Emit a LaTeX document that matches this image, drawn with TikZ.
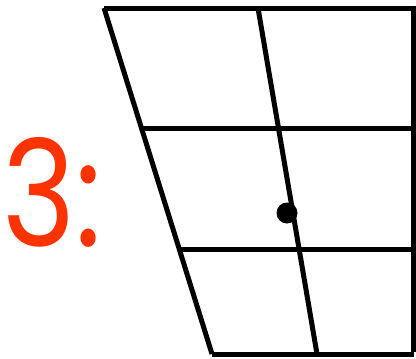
\documentclass[tikz,border=0pt]{standalone}
\usepackage{fontspec}
\setmainfont{Poppins}
\definecolor{lbl}{HTML}{FF3300}
\begin{document}
\begin{tikzpicture}[x=1pt,y=-1pt,
  gridline/.style={line width=5pt},
  labeltext/.style={text=lbl,font=\fontsize{148}{148}\selectfont,inner sep=0pt,anchor=base west,xscale=0.84,transform shape}]
\useasboundingbox (0,0) rectangle (416,359);
\coordinate (TL) at (104,8);
\coordinate (TM) at (258,8);
\coordinate (TR) at (413.5,8);
\coordinate (L1) at (142,128);
\coordinate (M1) at (278,128);
\coordinate (R1) at (413.5,128);
\coordinate (L2) at (180,249);
\coordinate (M2) at (298.5,249);
\coordinate (R2) at (413.5,249);
\coordinate (BL) at (212,354);
\coordinate (BM) at (317,354);
\coordinate (BR) at (413.5,354);
\draw[gridline] (TL) -- (TR);
\draw[gridline] (L1) -- (R1);
\draw[gridline] (L2) -- (R2);
\draw[gridline] (BL) -- (BR);
\draw[gridline] (TL) -- (BL);
\draw[gridline] (TM) -- (BM);
\draw[gridline] (TR) ++(0,-2.5) -- ([yshift=2.5pt]BR);
\fill (287,213) circle (10.5);
\node[labeltext] (lab) at (2,246) {3:};
\end{tikzpicture}
\end{document}
